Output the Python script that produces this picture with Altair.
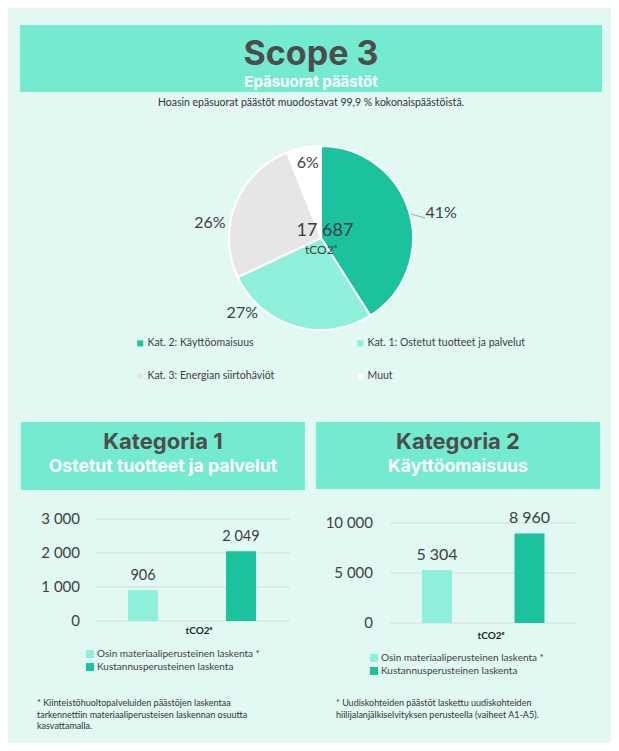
import altair as alt
import pandas as pd

# ---------------- data ----------------
pie_categories = ["Kat. 2: Käyttöomaisuus", "Kat. 1: Ostetut tuotteet ja palvelut",
                  "Kat. 3: Energian siirtohäviöt", "Muut"]
pie_shares = [41, 27, 26, 6]
pie_labels = ["41%", "27%", "26%", "6%"]
total_value = "17 687"
unit_label = "tCO2ᵉ"

bar_categories = ["Osin materiaaliperusteinen laskenta *", "Kustannusperusteinen laskenta"]
cat1_values = [906, 2049]
cat2_values = [5304, 8960]
cat1_ticks = [0, 1000, 2000, 3000]
cat2_ticks = [0, 5000, 10000]

title_main = "Scope 3"
subtitle_main = "Epäsuorat päästöt"
intro_text = "Hoasin epäsuorat päästöt muodostavat 99,9 % kokonaispäästöistä."
cat1_title = "Kategoria 1"
cat1_sub = "Ostetut tuotteet ja palvelut"
cat2_title = "Kategoria 2"
cat2_sub = "Käyttöomaisuus"
cat1_note = ("* Kiinteistöhuoltopalveluiden päästöjen laskentaa\n"
             "tarkennettiin materiaaliperusteisen laskennan osuutta\n"
             "kasvattamalla.")
cat2_note = ("* Uudiskohteiden päästöt laskettu uudiskohteiden\n"
             "hiilijalanjälkiselvityksen perusteella (vaiheet A1-A5).")

# ---------------- style ----------------
BG = "#e1f9f2"
BANNER = "#74ebd0"
DARK = "#1cc29e"
LIGHT = "#8ef0da"
GRAY = "#e6e6e6"
WHITE = "#ffffff"
TEXT = "#404040"
HEAD = "#4d4d4d"
BODY_FONT = "Lato"
HEAD_FONT = "Inter"
W = 603
FMT = "replace(format({v}, ','), ',', ' ')"

one = pd.DataFrame({"k": [0]})


def text_layer(txt, x, y, **kw):
    return alt.Chart(pd.DataFrame({"t": [txt]})).mark_text(**kw).encode(
        x=alt.value(x), y=alt.value(y), text="t:N")


def rect_layer(x, x2, y, y2, color):
    return alt.Chart(one).mark_rect(color=color).encode(
        x=alt.value(x), x2=alt.value(x2), y=alt.value(y), y2=alt.value(y2))


# ---------------- header ----------------
header = alt.layer(
    rect_layer(12, 594, 17, 84, BANNER),
    text_layer(title_main, 303, 57, font=HEAD_FONT, fontSize=34, fontWeight="bold",
               color=HEAD, align="center", baseline="alphabetic"),
    text_layer(subtitle_main, 303, 79, font=HEAD_FONT, fontSize=15, fontWeight="bold",
               color=WHITE, align="center", baseline="alphabetic"),
    text_layer(intro_text, 303, 98, font=BODY_FONT, fontSize=10.5,
               color="#333333", align="center", baseline="alphabetic"),
).properties(width=W, height=115)

# ---------------- pie ----------------
CX, CY = 313, 115
pie_df = pd.DataFrame({"cat": pie_categories, "share": pie_shares,
                       "label": pie_labels, "idx": list(range(len(pie_categories)))})
theta_scale = alt.Scale(domain=[0, 100])

arcs = alt.Chart(pie_df).mark_arc(outerRadius=92, stroke=WHITE, strokeWidth=2).encode(
    theta=alt.Theta("share:Q", stack=True, scale=theta_scale),
    order=alt.Order("idx:Q"),
    color=alt.Color("cat:N", sort=pie_categories,
                    scale=alt.Scale(domain=pie_categories, range=[DARK, LIGHT, GRAY, WHITE]),
                    legend=alt.Legend(title=None, orient="none", legendX=127, legendY=215,
                                      columns=2, direction="horizontal",
                                      symbolType="square", symbolSize=36,
                                      symbolStrokeWidth=0, labelFont=BODY_FONT,
                                      labelFontSize=10.5, labelColor=TEXT, labelLimit=400,
                                      columnPadding=80, rowPadding=22, padding=0,
                                      labelOffset=2)),
    x=alt.value(CX), y=alt.value(CY),
)

pie_base = alt.Chart(pie_df).transform_window(
    cum="sum(share)", sort=[alt.SortField("idx")], frame=[None, 0]
).transform_calculate(mid="datum.cum - datum.share / 2")

label_style = [(120, 5, 8), (110, -48, -31), (112, -7, 26), (76, 1, 0)]
label_layers = []
for i, (r, dx, dy) in enumerate(label_style):
    label_layers.append(
        pie_base.transform_filter(f"datum.idx == {i}").mark_text(
            radius=r, dx=dx, dy=dy, font=BODY_FONT, fontSize=16, color=TEXT,
            align="center", baseline="middle"
        ).encode(theta=alt.Theta("mid:Q", stack=None, scale=theta_scale),
                 text="label:N", x=alt.value(CX), y=alt.value(CY))
    )

leader = alt.Chart(one).mark_rule(color="#a6a6a6", strokeWidth=1).encode(
    x=alt.value(403), x2=alt.value(417), y=alt.value(91), y2=alt.value(95))

pie = alt.layer(
    arcs, *label_layers, leader,
    text_layer(total_value, CX + 4, 113, font=BODY_FONT, fontSize=18, color=TEXT,
               align="center", baseline="alphabetic"),
    text_layer(unit_label, CX, 131, font=BODY_FONT, fontSize=12, color=TEXT,
               align="center", baseline="alphabetic"),
).properties(width=W, height=299)


# ---------------- bar panels ----------------
PH = 321  # panel height


def panel(values, ticks, top_value, width, banner, title, title_y, sub,
          grid_x, y_zero, y_top, label_right, centers, value_size,
          legend_x, legend_y, unit_xy, note, note_xy):
    # y scale: maps top_value to y_top px and 0 to y_zero px inside the panel
    per_px = top_value / (y_zero - y_top)
    y_scale = alt.Scale(domain=[-(PH - y_zero) * per_px, y_zero * per_px],
                        nice=False, zero=False)
    # x band scale placing the two bar centres
    c0, c1 = centers
    step = c1 - c0
    pad_outer = (width / step - 1.5) / 2
    start = c0 - step * 0.25
    x_scale = alt.Scale(domain=bar_categories, paddingInner=0.5, paddingOuter=pad_outer,
                        align=start / (width - step * 1.5))

    df = pd.DataFrame({"cat": bar_categories, "v": values})
    tick_df = pd.DataFrame({"tick": ticks})

    grid = alt.Chart(tick_df).mark_rule(color="#d9d9d9", strokeWidth=1).encode(
        x=alt.value(grid_x[0]), x2=alt.value(grid_x[1]),
        y=alt.Y("tick:Q", scale=y_scale, axis=None))
    tick_labels = alt.Chart(tick_df).mark_text(
        font=BODY_FONT, fontSize=15, color=TEXT, align="right", baseline="middle"
    ).transform_calculate(lab=FMT.format(v="datum.tick")).encode(
        x=alt.value(label_right), y=alt.Y("tick:Q", scale=y_scale, axis=None),
        text="lab:N")

    base = alt.Chart(df).encode(
        x=alt.X("cat:N", sort=bar_categories, scale=x_scale, axis=None),
        y=alt.Y("v:Q", scale=y_scale, axis=None),
    )
    bars = base.mark_bar(size=30).encode(
        color=alt.Color("cat:N", sort=bar_categories,
                        scale=alt.Scale(domain=bar_categories, range=[LIGHT, DARK]),
                        legend=alt.Legend(title=None, orient="none", legendX=legend_x,
                                          legendY=legend_y, symbolType="square",
                                          symbolSize=64, symbolStrokeWidth=0,
                                          labelFont=BODY_FONT, labelFontSize=10,
                                          labelColor=TEXT, rowPadding=3, padding=0,
                                          labelOffset=2, labelLimit=400)))
    vals = base.mark_text(dy=-10, font=BODY_FONT, fontSize=value_size, color=TEXT,
                          baseline="alphabetic").transform_calculate(
        lab=FMT.format(v="datum.v")).encode(text="lab:N")

    bx, bx2, by, by2 = banner
    cx = (bx + bx2) / 2
    return alt.layer(
        rect_layer(bx, bx2, by, by2, BANNER),
        text_layer(title, cx, title_y, font=HEAD_FONT, fontSize=22, fontWeight="bold",
                   color=HEAD, align="center", baseline="alphabetic"),
        text_layer(sub, cx, title_y + 23, font=HEAD_FONT, fontSize=17.6, fontWeight="bold",
                   color=WHITE, align="center", baseline="alphabetic"),
        grid, tick_labels, bars, vals,
        text_layer(unit_label, unit_xy[0], unit_xy[1], font=BODY_FONT, fontSize=10,
                   fontWeight="bold", color="#262626", align="center", baseline="middle"),
        text_layer(note, note_xy[0], note_xy[1], font=BODY_FONT, fontSize=9,
                   color="#333333", align="left", baseline="alphabetic",
                   lineBreak="\n", lineHeight=11.5),
    ).properties(width=width, height=PH)


left = panel(cat1_values, cat1_ticks, 3000, 302,
             banner=(13, 297, 0, 68), title=cat1_title, title_y=27, sub=cat1_sub,
             grid_x=(87, 282), y_zero=199, y_top=97, label_right=72,
             centers=(135, 233), value_size=14.5,
             legend_x=77, legend_y=227, unit_xy=(191, 209),
             note=cat1_note, note_xy=(29, 284))
right = panel(cat2_values, cat2_ticks, 10000, 301,
              banner=(6, 290, 0, 67), title=cat2_title, title_y=27, sub=cat2_sub,
              grid_x=(80, 266), y_zero=201, y_top=101, label_right=63,
              centers=(127, 219.5), value_size=16,
              legend_x=59, legend_y=231, unit_xy=(181, 214),
              note=cat2_note, note_xy=(26, 284))

bottom = alt.hconcat(left, right, spacing=0).resolve_scale(color="independent")

chart = alt.vconcat(header, pie, bottom, spacing=0).resolve_scale(
    color="independent"
).properties(background=BG, padding=0).configure_view(stroke=None)

chart.save("out.html", embed_options={"renderer": "svg", "actions": False})
